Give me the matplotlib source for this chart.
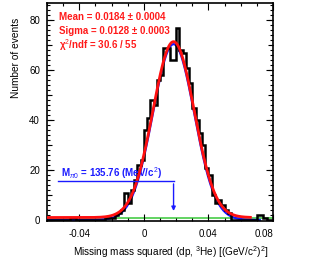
import numpy as np
import matplotlib
matplotlib.use('Agg')
import matplotlib.pyplot as plt
from matplotlib.ticker import MultipleLocator

plt.rcParams['font.family'] = ['Liberation Sans', 'DejaVu Sans']
plt.rcParams['mathtext.fontset'] = 'custom'
plt.rcParams['mathtext.rm'] = 'Liberation Sans'
plt.rcParams['mathtext.it'] = 'Liberation Sans:italic'
plt.rcParams['mathtext.bf'] = 'Liberation Sans:bold'

# histogram: 70 bins of 0.002 from -0.06 to 0.08
bin_lo, bin_hi, n_bins = -0.06, 0.08, 70
counts = [
    0, 0, 0, 0, 0, 0, 0, 1, 1, 0,          # -0.060 .. -0.040
    0, 0, 0, 0, 0, 0, 0, 0, 1, 1,          # -0.040 .. -0.020
    1, 2, 3, 4, 11, 7, 12, 16, 22, 24,     # -0.020 .. 0.000
    36, 41, 48, 46, 56, 58, 69, 69, 64, 64,  # 0.000 .. 0.020
    77, 68, 67, 61, 55, 45, 40, 35, 30, 21,  # 0.020 .. 0.040
    18, 10, 7, 8, 6, 4, 3, 0, 0, 0,       # 0.040 .. 0.060
    0, 0, 0, 0, 0, 2, 2, 1, 0, 0,          # 0.060 .. 0.080
]
xticks = [-0.04, 0.0, 0.04, 0.08]
xtick_labels = ['-0.04', '0', '0.04', '0.08']

# fit results shown on the plot
fit_mean, fit_mean_err = 0.0184, 0.0004
fit_sigma, fit_sigma_err = 0.0128, 0.0003
fit_amp = 70.5
fit_bkg = 1.0
chi2, ndf = 30.6, 55
m_pi0 = 135.76

edges = np.linspace(bin_lo, bin_hi, n_bins + 1)

fig = plt.figure(figsize=(3.27, 2.62), dpi=100)
ax = fig.add_axes([47 / 327, 1 - 221 / 262, 226 / 327, 218 / 262])

x_all = np.linspace(bin_lo, bin_hi, 600)
gaus = fit_amp * np.exp(-0.5 * ((x_all - fit_mean) / fit_sigma) ** 2)

ax.plot([bin_lo, bin_hi], [0.8, 0.8], color='#55d055', lw=1.3, zorder=1)
m_blue = x_all < 0.072
ax.plot(x_all[m_blue], gaus[m_blue], color='#1515ff', lw=1.6, zorder=2)
ax.stairs(counts, edges, color='black', lw=1.8, zorder=3)
m_red = x_all < 0.066
ax.plot(x_all[m_red], gaus[m_red] + fit_bkg, color='#ff1010', lw=2.0, zorder=4)

ax.set_xlim(bin_lo, bin_hi)
ax.set_ylim(-0.4, 87)

ax.set_xticks(xticks, xtick_labels)
ax.get_xticklabels()[-1].set_horizontalalignment('right')
ax.xaxis.set_minor_locator(MultipleLocator(0.01))
ax.yaxis.set_major_locator(MultipleLocator(20))
ax.yaxis.set_minor_locator(MultipleLocator(2))
ax.tick_params(which='both', direction='in', top=True, right=True, width=0.8)
ax.tick_params(which='major', length=5, labelsize=7)
ax.tick_params(which='minor', length=2.5)
ax.tick_params(axis='x', pad=6)
ax.tick_params(axis='y', pad=5)
for sp in ax.spines.values():
    sp.set_linewidth(1.2)

# medium ticks every 10 on y
ax3 = fig.add_axes(ax.get_position(), frameon=False)
ax3.set_xlim(ax.get_xlim())
ax3.set_ylim(ax.get_ylim())
ax3.yaxis.set_major_locator(MultipleLocator(10))
ax3.tick_params(axis='y', direction='in', left=True, right=True, length=3.8,
                labelleft=False, width=0.8)
ax3.set_xticks([])

red = '#ff1a1a'
fs = 7
ax.text(0.053, 0.937, f'Mean = {fit_mean} ± {fit_mean_err}', transform=ax.transAxes,
        color=red, fontsize=fs, fontweight='bold', va='center')
ax.text(0.053, 0.872, f'Sigma = {fit_sigma} ± {fit_sigma_err}', transform=ax.transAxes,
        color=red, fontsize=fs, fontweight='bold', va='center')
ax.text(0.053, 0.805, f'χ$^{{2}}$/ndf = {chi2} / {ndf}', transform=ax.transAxes,
        color=red, fontsize=fs, fontweight='bold', va='center')

blue = '#1a1aff'
ax.text(-0.0515, 19.0, f'M$_{{\\pi0}}$ = {m_pi0} (MeV/c$^{{2}}$)', color=blue,
        fontsize=fs, fontweight='bold', va='center')
arrow_y, arrow_x0 = 15.6, -0.0532
ax.plot([arrow_x0, fit_mean], [arrow_y, arrow_y], color=blue, lw=1.0, zorder=5)
ax.annotate('', xy=(fit_mean, 2.5), xytext=(fit_mean, arrow_y),
            arrowprops=dict(arrowstyle='-|>', color=blue, lw=1.0,
                            mutation_scale=6), zorder=5)

fig.text(16 / 327, 1 - 18 / 262, 'Number of events', rotation=90,
         ha='center', va='top', fontsize=7.3)
fig.text(268 / 327, 1 - 252 / 262,
         'Missing mass squared (dp, $^{3}$He) [(GeV/c$^{2}$)$^{2}$]',
         ha='right', va='center', fontsize=7.2)

fig.savefig('out.png', dpi=100)
